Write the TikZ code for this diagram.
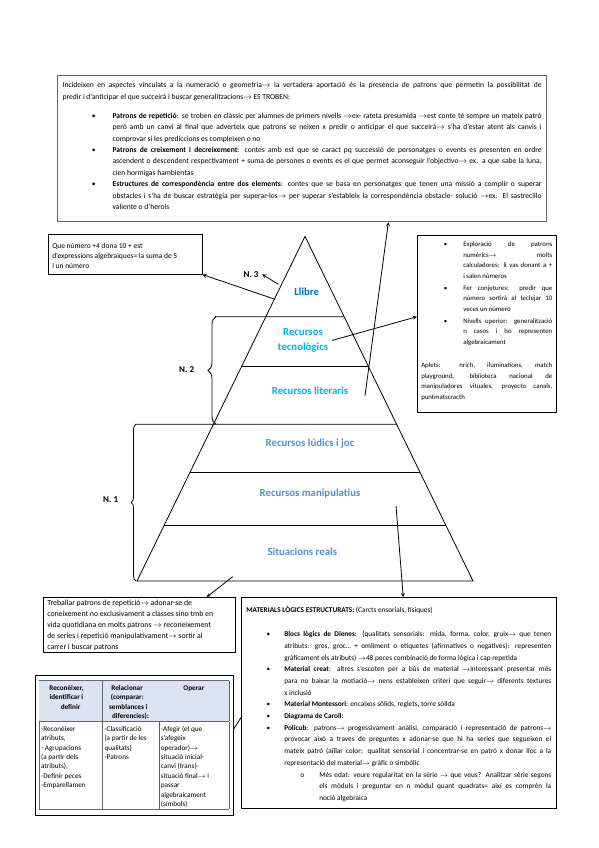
\documentclass[tikz,border=0pt]{standalone}
\usepackage{fontspec}
\setmainfont{Carlito}
\usepackage{enumitem}
\usepackage{array}
\usepackage{colortbl}
\usetikzlibrary{positioning,calc,fit,arrows,decorations.pathreplacing}
\definecolor{pyrdark}{RGB}{0,112,192}
\definecolor{pyrlight}{RGB}{0,176,240}
\definecolor{pyrsoft}{RGB}{85,142,213}
\definecolor{headblue}{RGB}{219,229,241}
\newcommand{\arr}{$\rightarrow$}
\newcommand{\thd}[1]{\centering\bfseries #1}
\newcommand{\boxbody}[3]{\parbox[t][#1][t]{#2}{#3}}
\hyphenpenalty=10000
\exhyphenpenalty=10000

\begin{document}
\begin{tikzpicture}[x=1pt, y=-1pt, >=stealth, line width=0.8pt,
    txtbox/.style={draw, line width=0.6pt, anchor=north west, inner xsep=4pt},
    level/.style={font=\fontsize{10.8}{14.7}\selectfont\bfseries, align=center},
    nlabel/.style={font=\fontsize{9}{10}\selectfont\bfseries}]
    \useasboundingbox (0,0) rectangle (599,848);

    % piramide
    \coordinate (apex) at (305,236.4);
    \coordinate (bl) at (137,581);
    \coordinate (br) at (473,581);
    \draw (bl) -- (apex) -- (br) -- cycle;
    \foreach \t in {0.376,0.685,0.840}
        \draw ($(apex)!\t!(bl)$) -- ($(apex)!\t!(br)$);
    \draw (215,316.7) -- ($(apex)!0.233!(br)$);
    \draw (135,424.3) -- ($(apex)!0.545!(br)$);
    \draw[decorate, decoration={brace, amplitude=8pt}] (216,424.3) -- (216,316.7);
    \draw[decorate, decoration={brace, amplitude=5pt}] (136,581) -- (136,424.3);

    \node[level, text=pyrdark] (llibre) at (306.7,291.7) {Llibre};
    \node[level, text=pyrlight] (tec) at (303,340.5) {Recursos\\tecnològics};
    \node[level, text=pyrlight] (lit) at (310,390.3) {Recursos literaris};
    \node[level, text=pyrsoft] (ludic) at (310,443.7) {Recursos lúdics i joc};
    \node[level, text=pyrsoft] (manip) at (310,494) {Recursos manipulatius};
    \node[level, text=pyrsoft] (real) at (302.3,551.3) {Situacions reals};

    \node[nlabel] (n3) at (251,274.3) {N. 3};
    \node[nlabel] (n2) at (186.7,369.3) {N. 2};
    \node[nlabel] (n1) at (110.7,500) {N. 1};

    % caixes de text
    \node[txtbox, draw=black!60, line width=1.2pt, inner xsep=5pt, inner ysep=7pt,
        font=\fontsize{7.6}{11.4}\selectfont] (topbox) at (57,75) {\boxbody{132pt}{479pt}{%
        Incideixen en aspectes vinculats a la numeració o geometria\arr{} la vertadera aportació és la presència de patrons que permetin la possibilitat de\linebreak
        predir i d'anticipar el que succeirà i buscar generalitzacions\arr{} ES TROBEN:
        \begin{itemize}[leftmargin=50pt, labelsep=17pt, topsep=7.6pt, itemsep=0pt, parsep=0pt, partopsep=0pt]
            \item \textbf{Patrons de repetició}: se troben en clàssic per alumnes de primers nivells \arr{}ex- rateta presumida \arr{}est conte té sempre un mateix patró\linebreak
            però amb un canvi al final que adverteix que patrons se neixen x predir o anticipar el que succeirà\arr{} s'ha d'estar atent als canvis i\linebreak
            comprovar si les prediccions es compleixen o no
            \item \textbf{Patrons de creixement i decreixement}: contes amb est que se caract pq successió de personatges o events es presenten en ordre\linebreak
            ascendent o descendent respectivament + suma de persones o events es el que permet aconseguir l'objectivo\arr{} ex. a que sabe la luna,\linebreak
            cien hormigas hambientas
            \item \textbf{Estructures de correspondència entre dos elements}: contes que se basa en personatges que tenen una missió a complir o superar\linebreak
            obstacles i s'ha de buscar estratègia per superar-los\arr{} per superar s'estableix la correspondència obstacle- solució \arr{}ex. El sastrecillo\linebreak
            valiente o d'herois
        \end{itemize}}};

    \node[txtbox, inner ysep=6pt, font=\fontsize{7.5}{10}\selectfont] (algbox) at (48,234) {\boxbody{28pt}{146pt}{\raggedright\vspace*{3pt}
        Que número +4 dona 10 + est\\
        d'expressions algebraiques= la suma de 5\\
        i un número}};

    \node[txtbox, inner ysep=6.5pt, font=\fontsize{6.8}{10.5}\selectfont] (appbox) at (417,235) {\boxbody{164pt}{131pt}{%
        \begin{itemize}[leftmargin=42pt, labelsep=16pt, topsep=0pt, itemsep=1.5pt, parsep=0pt, partopsep=0pt]
            \item Exploració de patrons\linebreak numèrics\arr{} molts\linebreak calculadores: li vas donant a +\linebreak i salen números
            \item Fer conjetures: predir que\linebreak número sortirà al teclejar 10\linebreak veces un número
            \item Nivells uperior: generalització\linebreak n casos i ho representen\linebreak algebraicament
        \end{itemize}
        \vspace{13pt}
        Aplets: nrich, iluminations, match\linebreak playground, biblioteca nacional de\linebreak manipuladores vituales, proyecto canals,\linebreak puntmatscracth}};

    \node[txtbox, inner ysep=3pt, font=\fontsize{7.8}{11}\selectfont] (repbox) at (43,597) {\boxbody{49pt}{184pt}{\raggedright
        Treballar patrons de repetició\arr{} adonar-se de\\
        coneixement no exclusivament a classes sino tmb en\\
        vida quotidiana en molts patrons \arr{} reconeixement\\
        de series i repetició manipulativament\arr{} sortir al\\
        carrer i buscar patrons}};

    \node[txtbox, inner xsep=5pt, inner ysep=9.5pt, font=\fontsize{7.3}{11.7}\selectfont] (matbox) at (241,597) {\boxbody{192pt}{305pt}{%
        \textbf{MATERIALS LÒGICS ESTRUCTURATS:} (Carcts ensorials, físiques)
        \begin{itemize}[leftmargin=38pt, labelsep=14pt, topsep=12pt, itemsep=0pt, parsep=0pt, partopsep=0pt]
            \item \textbf{Blocs lògics de Dienes}: (qualitats sensorials: mida, forma, color, gruix\arr{} que tenen\linebreak
            atributs: gros, groc… + omliment o etiquetes (afirmatives o negatives): representen\linebreak
            gràficament els atributs) \arr{}48 peces combinació de forma lògica i cap repetida
            \item \textbf{Material creat}: altres s'escoten per a bús de material \arr{}interessant presentar més\linebreak
            para no baixar la motiació\arr{} nens estableixen criteri que seguir\arr{} diferents textures\linebreak
            x inclusió
            \item \textbf{Material Montessori}: encaixos sòlids, reglets, torre sòlida
            \item \textbf{Diagrama de Caroll}:
            \item \textbf{Policub}: patrons\arr{} progessivament anàlisi, comparació i representació de patrons\arr{}\linebreak
            provocar això a traves de preguntes x adonar-se que hi ha series que segueixen el\linebreak
            mateix patró (aïllar color: qualitat sensorial i concentrar-se en patró x donar lloc a la\linebreak
            representació del material\arr{} gràfic o simbòlic
            \begin{itemize}[label={o}, leftmargin=35pt, labelsep=15pt, topsep=0pt, itemsep=0pt, parsep=0pt, partopsep=0pt]
                \item Més edat: veure regularitat en la sèrie \arr{} que veus? Analitzar sèrie segons\linebreak
                els mòduls i preguntar en n mòdul quant quadrats= així es comprèn la\linebreak
                noció algebraica
            \end{itemize}
        \end{itemize}}};

    % taula
    \node[anchor=north west, inner sep=0pt, font=\fontsize{7.2}{9.4}\selectfont] (tab) at (38.3,680) {%
        \arrayrulecolor{black!60}\setlength{\tabcolsep}{2pt}\setlength{\extrarowheight}{3pt}%
        \begin{tabular}{|p{59pt}|p{52pt}|p{66pt}|}
            \hline
            \rowcolor{headblue}\thd{Reconèixer,\newline identificar i\newline definir} & \thd{Relacionar\newline (comparar:\newline semblances i\newline diferencies):} & \thd{Operar}\tabularnewline
            \hline
            -Reconèixer\newline atributs,\newline - Agrupacions\newline (a partir dels\newline atributs),\newline -Definir peces\newline -Emparellamen &
            -Classificació\newline (a partir de les\newline qualitats)\newline -Patrons &
            -Afegir (el que\newline s'afegeix\newline operador)\arr\newline situació inicial-\newline canvi (trans)-\newline situació final\arr{} i\newline passar\newline algebraicament\newline (símbols)\tabularnewline
            \hline
        \end{tabular}};
    \node[draw, line width=0.6pt, fit=(tab), inner xsep=3.3pt, inner ysep=5pt] (tabframe) {};

    % connectors
    \coordinate (cllibre) at (275,299.3);
    \coordinate (cn3) at (278.3,284.3);
    \coordinate (clit) at (365,395.7);
    \coordinate (cbase) at (232.7,576.7);
    \coordinate (cmanip) at (396,505.7);
    \draw[->] (cllibre) -- (algbox.south east);
    \draw[->] (cn3) -- (n3.east);
    \draw[->] (tec.east) -- ($(appbox.north west)!0.46!(appbox.south west)$);
    \draw[->] (clit) -- ($(topbox.south west)!0.676!(topbox.south east)$);
    \draw[->] (cbase) -- ($(repbox.north west)!0.85!(repbox.north east)$);
    \draw[->] (cmanip) -- ($(matbox.north west)!0.514!(matbox.north east)$);
    \draw ($(tabframe.north east)!0.39!(tabframe.south east)$) -- ($(matbox.north west)!0.57!(matbox.south west)$);
\end{tikzpicture}
\end{document}
